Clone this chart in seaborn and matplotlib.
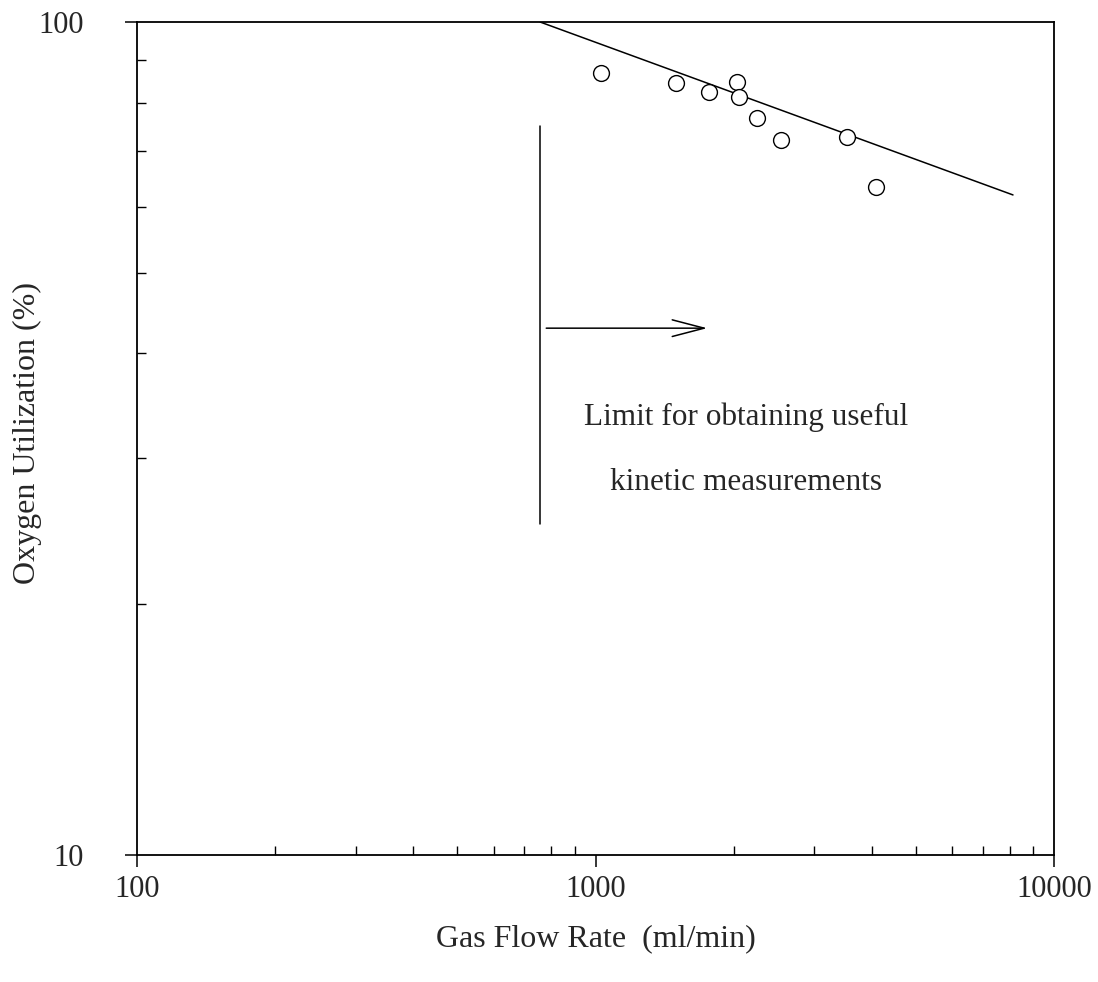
import numpy as np
import pandas as pd
import matplotlib
matplotlib.use("Agg")
import matplotlib.pyplot as plt
from matplotlib.ticker import LogLocator, NullFormatter, FixedLocator, FixedFormatter
from matplotlib.patches import FancyArrowPatch
import seaborn as sns

# Measured oxygen utilization vs. gas flow rate
flow_rate = [1026, 1498, 1771, 2032, 2052, 2254, 2534, 3541, 4085]
utilization = [86.9, 84.4, 82.5, 84.6, 81.2, 76.6, 72.2, 72.7, 63.4]

# Power-law trend line (straight on log-log axes)
fit_flow = [757, 8140]
fit_util = [100.0, 62.0]

# Limit marker: vertical bar and arrow
limit_flow = 755
limit_util = [25.0, 75.0]
arrow_flow = [770, 1777]
arrow_util = 42.9

x_ticks = [100, 1000, 10000]
x_tick_labels = ["100", "1000", "10000"]
y_ticks = [10, 100]
y_tick_labels = ["10", "100"]

sns.set_style("ticks")
plt.rcParams["font.family"] = ["Liberation Serif", "DejaVu Serif"]

fig = plt.figure(figsize=(10.98, 9.82), dpi=100)
ax = fig.add_axes([0.1248, 0.1293, 0.8351, 0.8483])

pts = pd.DataFrame({"flow": flow_rate, "util": utilization})
fit = pd.DataFrame({"flow": fit_flow, "util": fit_util})

sns.lineplot(data=fit, x="flow", y="util", ax=ax, color="black", linewidth=1.1)
sns.scatterplot(data=pts, x="flow", y="util", ax=ax, s=130, facecolor="white",
                edgecolor="black", linewidth=1.0, zorder=3)

ax.set_xscale("log")
ax.set_yscale("log")
ax.set_xlim(100, 10000)
ax.set_ylim(10, 100)

ax.xaxis.set_major_locator(FixedLocator(x_ticks))
ax.xaxis.set_major_formatter(FixedFormatter(x_tick_labels))
ax.yaxis.set_major_locator(FixedLocator(y_ticks))
ax.yaxis.set_major_formatter(FixedFormatter(y_tick_labels))
ax.xaxis.set_minor_locator(LogLocator(base=10, subs=np.arange(2, 10)))
ax.yaxis.set_minor_locator(LogLocator(base=10, subs=np.arange(2, 10)))
ax.xaxis.set_minor_formatter(NullFormatter())
ax.yaxis.set_minor_formatter(NullFormatter())

ax.tick_params(which="major", direction="out", length=8.5, width=1.1,
               labelsize=22, color="black")
ax.tick_params(axis="x", which="major", pad=6)
ax.tick_params(axis="y", which="major", pad=30)
ax.tick_params(which="minor", direction="in", length=6.5, width=1.0, color="black")
ax.tick_params(top=False, right=False, which="both")

for sp in ax.spines.values():
    sp.set_color("black")
    sp.set_linewidth(1.3)

# vertical limit bar
ax.plot([limit_flow, limit_flow], limit_util, color="black", linewidth=1.1)
# arrow pointing to the useful region
arrow = FancyArrowPatch((arrow_flow[0], arrow_util), (arrow_flow[1], arrow_util),
                        arrowstyle="->,head_length=1.15,head_width=0.3",
                        mutation_scale=20, color="black", linewidth=1.1)
ax.add_patch(arrow)

ax.text(2129, 33.5, "Limit for obtaining useful", fontsize=22.5,
        ha="center", va="center")
ax.text(2129, 28.0, "kinetic measurements", fontsize=22.5,
        ha="center", va="center")

ax.set_xlabel("Gas Flow Rate  (ml/min)", fontsize=23)
ax.set_ylabel("Oxygen Utilization (%)", fontsize=23)
ax.xaxis.set_label_coords(0.5, -0.10)
ax.xaxis.label.set_verticalalignment("center")
ax.yaxis.set_label_coords(-0.12, 0.507)
ax.yaxis.label.set_verticalalignment("center")

fig.savefig("out.png", dpi=100, facecolor="white")
